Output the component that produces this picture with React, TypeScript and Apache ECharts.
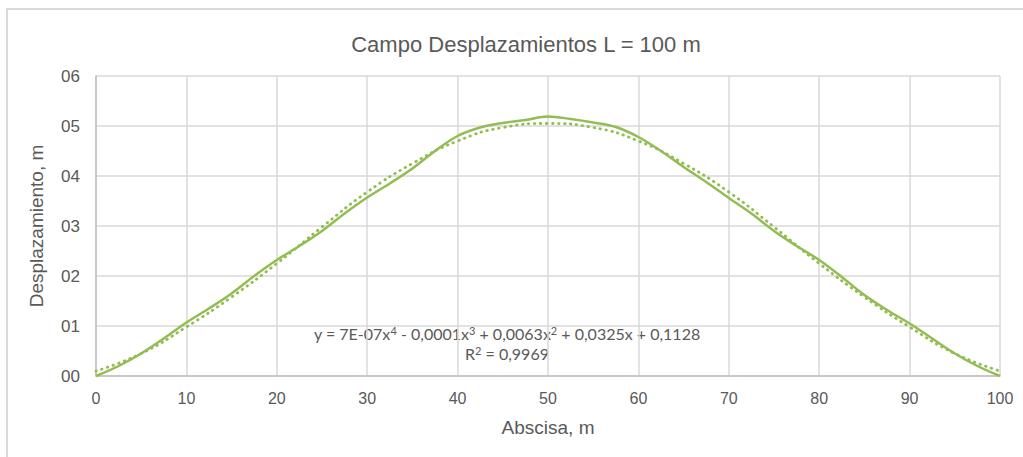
import React, { useEffect, useRef } from "react";
import * as echarts from "echarts";

// Abscissa stations along the span (m)
const abscisa = [0, 2.5, 5, 7.5, 10, 12.5, 15, 17.5, 20, 22.5, 25, 27.5, 30, 32.5, 35, 37.5, 40, 42.5, 45, 47.5, 50, 52.5, 55, 57.5, 60, 62.5, 65, 67.5, 70, 72.5, 75, 77.5, 80, 82.5, 85, 87.5, 90, 92.5, 95, 97.5, 100];
// Measured displacement field (m)
const desplazamiento = [0.0, 0.02, 0.045, 0.075, 0.107, 0.135, 0.165, 0.2, 0.232, 0.26, 0.29, 0.325, 0.357, 0.385, 0.415, 0.45, 0.48, 0.497, 0.506, 0.512, 0.519, 0.514, 0.507, 0.498, 0.478, 0.45, 0.418, 0.388, 0.356, 0.325, 0.29, 0.26, 0.232, 0.198, 0.162, 0.132, 0.105, 0.075, 0.045, 0.02, 0.0];

// Polynomial trendline (4th order) sampled along the span
const tendenciaX = [0, 5, 10, 15, 20, 25, 30, 35, 40, 45, 50, 55, 60, 65, 70, 75, 80, 85, 90, 95, 100];
const tendenciaY = [0.01, 0.045, 0.098, 0.158, 0.225, 0.298, 0.368, 0.425, 0.47, 0.497, 0.505, 0.497, 0.47, 0.425, 0.368, 0.298, 0.225, 0.158, 0.098, 0.045, 0.01];

const xTicks = [0, 10, 20, 30, 40, 50, 60, 70, 80, 90, 100];
const yTicks = [0, 0.1, 0.2, 0.3, 0.4, 0.5, 0.6];

const GREEN = "#92BD52";
const TEXT = "#595959";
const SANS = "Liberation Sans, Arial";
const EQ_FONT = "Lato, Open Sans";

export default function App() {
  const ref = useRef<HTMLDivElement>(null);

  useEffect(() => {
    if (!ref.current) return;
    const chart = echarts.init(ref.current, undefined, { renderer: "svg" });
    chart.setOption({
      animation: false,
      backgroundColor: "#ffffff",
      title: {
        text: "Campo Desplazamientos L = 100 m",
        left: 521,
        top: 28,
        textAlign: "center",
        textStyle: { fontFamily: SANS, fontSize: 22, fontWeight: "normal", color: TEXT },
      },
      grid: { left: 96, right: 23, top: 76, bottom: 81 },
      xAxis: {
        type: "value",
        min: xTicks[0],
        max: xTicks[xTicks.length - 1],
        interval: 10,
        name: "Abscisa, m",
        nameLocation: "middle",
        nameGap: 42,
        nameTextStyle: { fontFamily: SANS, fontSize: 19, color: TEXT },
        axisLine: { show: true, lineStyle: { color: "#bfbfbf", width: 1.5 } },
        axisTick: { show: false },
        axisLabel: { fontFamily: SANS, fontSize: 16, color: TEXT, margin: 14 },
        splitLine: { show: true, lineStyle: { color: "#d9d9d9", width: 1.5 } },
      },
      yAxis: {
        type: "value",
        min: yTicks[0],
        max: yTicks[yTicks.length - 1],
        interval: 0.1,
        name: "Desplazamiento, m",
        nameLocation: "middle",
        nameGap: 50,
        nameTextStyle: { fontFamily: SANS, fontSize: 19, color: TEXT },
        axisLine: { show: true, lineStyle: { color: "#bfbfbf", width: 1.5 } },
        axisTick: { show: false },
        axisLabel: {
          fontFamily: SANS,
          fontSize: 17,
          color: TEXT,
          margin: 16,
          formatter: (v: number) => "0" + Math.round(v * 10),
        },
        splitLine: { show: true, lineStyle: { color: "#d9d9d9", width: 1.5 } },
      },
      series: [
        {
          type: "line",
          data: abscisa.map((x, i) => [x, desplazamiento[i]]),
          smooth: 0.35,
          showSymbol: false,
          lineStyle: { color: GREEN, width: 2.5 },
          z: 3,
        },
        {
          type: "line",
          data: tendenciaX.map((x, i) => [x, tendenciaY[i]]),
          smooth: 0.5,
          showSymbol: false,
          lineStyle: { color: GREEN, width: 2.8, type: [0.5, 5.5], cap: "round" },
          z: 2,
        },
      ],
      graphic: [
        {
          type: "rect",
          shape: { x: 7, y: 9, width: 1030, height: 470 },
          style: { fill: "none", stroke: "#d9d9d9", lineWidth: 2 },
          silent: true,
        },
        {
          type: "text",
          x: 507,
          y: 333,
          style: {
            text: "y = 7E-07x{s|4} - 0,0001x{s|3} + 0,0063x{s|2} + 0,0325x + 0,1128",
            rich: {
              s: { fontFamily: EQ_FONT, fontSize: 11, fill: TEXT, verticalAlign: "top", padding: [0, 0, 6, 0] },
            },
            fontFamily: EQ_FONT,
            fontSize: 16,
            fill: TEXT,
            align: "center",
            verticalAlign: "middle",
          },
        },
        {
          type: "text",
          x: 507,
          y: 353,
          style: {
            text: "R{s|2} = 0,9969",
            rich: {
              s: { fontFamily: EQ_FONT, fontSize: 11, fill: TEXT, verticalAlign: "top", padding: [0, 0, 6, 0] },
            },
            fontFamily: EQ_FONT,
            fontSize: 16,
            fill: TEXT,
            align: "center",
            verticalAlign: "middle",
          },
        },
      ],
    });
    return () => chart.dispose();
  }, []);

  return (
    <div
      ref={ref}
      style={{ position: "absolute", left: 0, top: 0, width: 1023, height: 457 }}
    />
  );
}
